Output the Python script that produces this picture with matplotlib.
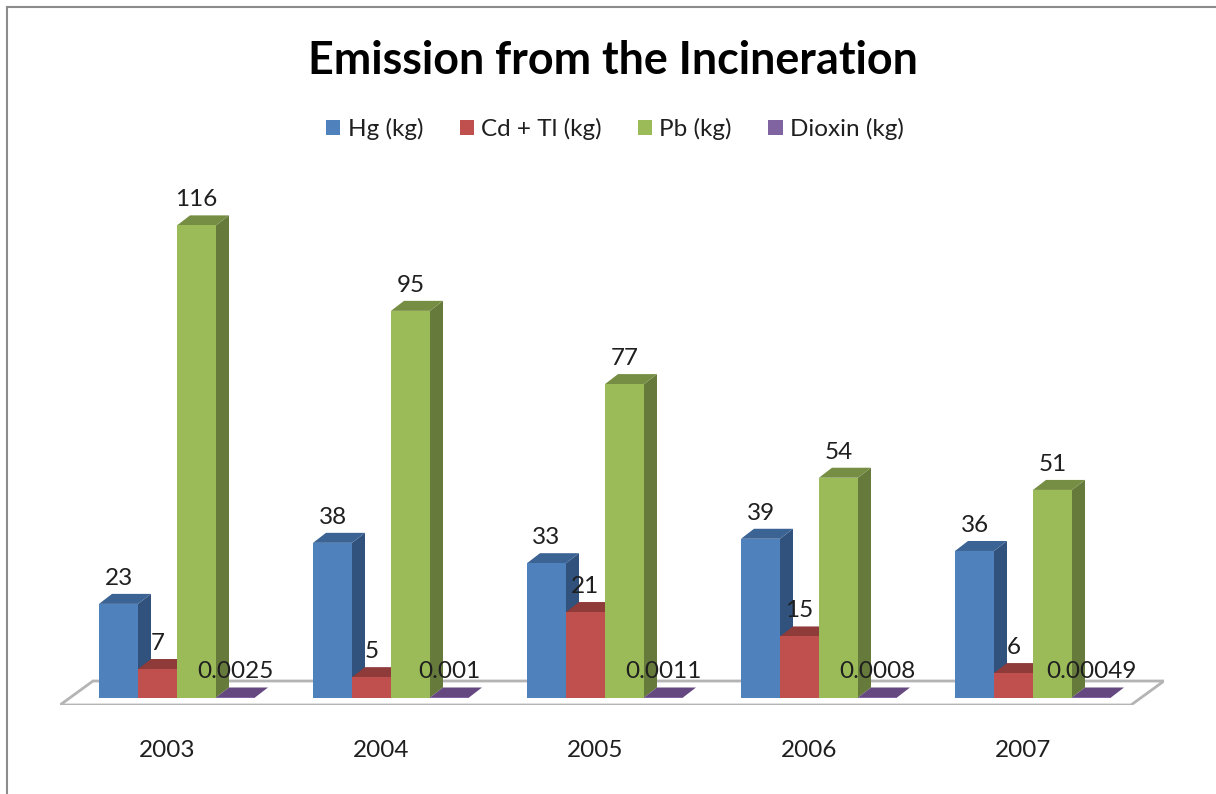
import matplotlib
matplotlib.use('Agg')

import numpy as np
import matplotlib.pyplot as plt
from matplotlib.lines import Line2D
from matplotlib.patches import Polygon, Patch

years = ['2003', '2004', '2005', '2006', '2007']
hg = [23, 38, 33, 39, 36]
cd_tl = [7, 5, 21, 15, 6]
pb = [116, 95, 77, 54, 51]
dioxin = [0.0025, 0.001, 0.0011, 0.0008, 0.00049]
dioxin_labels = ['0.0025', '0.001', '0.0011', '0.0008', '0.00049']
series_names = ['Hg (kg)', 'Cd + Tl (kg)', 'Pb (kg)', 'Dioxin (kg)']

front = ['#4F81BD', '#C0504D', '#9BBB59', '#8064A2']
top = ['#3B6394', '#8E3B39', '#758E43', '#65487F']
side = ['#30527D', '#7A3230', '#667A3C', '#54406B']

W, H = 1216, 794
px_per_group = 214.0
px_per_unit = 4.07
group0_px = 177.0
base_px = 697.5
bar_width = 39 / px_per_group
dx = 13 / px_per_group
dy = 10 / px_per_unit

plt.rcParams['font.family'] = ['Lato', 'DejaVu Sans']
text_color = '#1f1f1f'
label_size = 17.5

fig = plt.figure(figsize=(W / 100, H / 100), dpi=100)

# axes box runs from the floor's outer corners up to below the legend
left, right, bottom, upper = 60, 1164, 705, 150
ax = fig.add_axes([left / W, 1 - bottom / H, (right - left) / W, (bottom - upper) / H])
ax.set_xlim((left - group0_px) / px_per_group, (right - group0_px) / px_per_group)
ax.set_ylim((base_px - bottom) / px_per_unit, (base_px - upper) / px_per_unit)
ax.patch.set_visible(False)
for s in ax.spines.values():
    s.set_visible(False)

x = np.arange(len(years))
ax.set_xticks(x - 10 / px_per_group)
ax.set_xticklabels(years, fontsize=label_size, color=text_color)
ax.set_yticks([])
ax.tick_params(axis='x', length=0, pad=25)

# floor of the 3d chart
x0, x1 = ax.get_xlim()
y0 = ax.get_ylim()[0]
y_back = (base_px - 681) / px_per_unit
floor = Polygon([(x0, y0), ((1131 - group0_px) / px_per_group, y0), (x1, y_back),
                 ((93 - group0_px) / px_per_group, y_back)],
                closed=True, facecolor='white', edgecolor='#B4B4B4', linewidth=2.0,
                joinstyle='miter', zorder=1)
ax.add_patch(floor)

all_values = [hg, cd_tl, pb, dioxin]
for j, values in enumerate(all_values):
    lefts = x + (j - 2) * bar_width
    z = 2 + j
    for xl, v in zip(lefts, values):
        xr = xl + bar_width
        ax.add_patch(Polygon([(xr, 0), (xr + dx, dy), (xr + dx, v + dy), (xr, v)],
                             facecolor=side[j], edgecolor='none', zorder=z, clip_on=False))
        ax.add_patch(Polygon([(xl, v), (xr, v), (xr + dx, v + dy), (xl + dx, v + dy)],
                             facecolor=top[j], edgecolor='none', zorder=z, clip_on=False))
    ax.bar(lefts, values, width=bar_width, align='edge', color=front[j], zorder=z + 0.5)

for j, values in enumerate(all_values):
    centers = x + (j - 2) * bar_width + bar_width / 2
    for i, (c, v) in enumerate(zip(centers, values)):
        label = dioxin_labels[i] if j == 3 else str(v)
        ax.annotate(label, (c, v), xytext=(0, 18.5), textcoords='offset points',
                    ha='center', va='center', fontsize=label_size, color=text_color, zorder=10)

fig.text(613 / W, 1 - 61 / H, 'Emission from the Incineration', ha='center', va='center',
         fontsize=32.3, fontweight='bold', color='black')

handles = [Patch(facecolor=c, edgecolor='none') for c in front]
fig.legend(handles, series_names, loc='center', bbox_to_anchor=(615 / W, 1 - 129 / H),
           ncol=4, frameon=False, fontsize=label_size, borderpad=0, borderaxespad=0,
           handlelength=0.58, handleheight=0.58, handletextpad=0.3, columnspacing=1.5,
           labelcolor=text_color)

# outer chart frame, only the top and left edge are inside the picture
frame = '#8C8C8C'
fig.add_artist(Line2D([7 / W, 7 / W], [0, 1 - 7 / H], color=frame, lw=1.5))
fig.add_artist(Line2D([7 / W, 1], [1 - 7 / H, 1 - 7 / H], color=frame, lw=1.5))

fig.savefig('out.png', dpi=100)
